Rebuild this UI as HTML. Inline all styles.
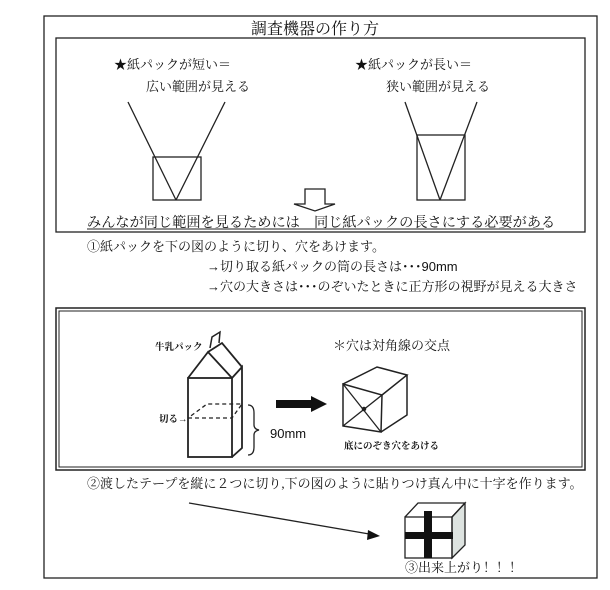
<!DOCTYPE html>
<html><head><meta charset="utf-8"><style>
body{margin:0;background:#fff;width:610px;height:585px;overflow:hidden}
svg text{font-family:"Liberation Serif","Noto Serif CJK SC","Noto Sans CJK JP",serif;fill:#111}
</style></head><body>
<svg width="610" height="585" viewBox="0 0 610 585" xmlns="http://www.w3.org/2000/svg">
<g fill="none" stroke="#222" stroke-width="1.3">
<rect x="44" y="16" width="553" height="562"/>
<rect x="56" y="38" width="529" height="194"/>
<rect x="56" y="308" width="529" height="162" stroke-width="1.5"/>
<rect x="59" y="311" width="523" height="156" stroke-width="1"/>
<!-- left V -->
<line x1="128" y1="102" x2="176" y2="200"/><line x1="225" y1="102" x2="176" y2="200"/>
<rect x="153" y="157" width="48" height="43"/>
<line x1="405" y1="102" x2="440" y2="200"/><line x1="477" y1="102" x2="440" y2="200"/>
<rect x="417" y="135" width="48" height="65"/>
<polygon points="305,189 325,189 325,204 335,204 315,211 294,204 305,204"/>
<line x1="87" y1="229" x2="544" y2="229" stroke-width="1"/>
<!-- carton -->
<rect x="188" y="378" width="44" height="79" stroke-width="1.8"/>
<polyline points="232,457 242,448 242,367 232,378" stroke-width="1.8"/>
<polyline points="188,378 208,352 232,378" stroke-width="1.8"/>
<polyline points="208,352 222,343 242,367" stroke-width="1.8"/>
<polyline points="210,348 212,337 220,332 219,343" stroke-width="1.5"/>
<polyline points="188,418 232,418 242,404 207,404 188,418" stroke-dasharray="4,3" stroke-width="1.3"/>
<path d="M248,405 q6,0 6,8 v12 q0,4 5,5 q-5,1 -5,5 v12 q0,8 -6,8"/>
<!-- cube -->
<polygon points="343,384 382,395 381,432 343,426" stroke-width="1.5"/>
<polyline points="343,384 377,367 407,375 382,395" stroke-width="1.5"/>
<polyline points="407,375 407,415 381,432" stroke-width="1.5"/>
<line x1="343" y1="384" x2="381" y2="432"/><line x1="382" y1="395" x2="343" y2="426"/>
<circle cx="364" cy="409" r="1.6" fill="#222"/>
<!-- long arrow -->
<line x1="189" y1="503" x2="375" y2="535"/>
<!-- final cube -->
<polygon points="452,517 465,503 465,545 452,558" fill="#dde3e0"/>
<polyline points="405,517 418,503 465,503 452,517"/>
<rect x="405" y="517" width="47" height="41"/>
</g>
<polygon points="276,400 311,400 311,396 327,404 311,412 311,408 276,408" fill="#111"/>
<polygon points="380,536 368,530 367,540" fill="#111"/>
<rect x="424" y="511" width="8" height="47" fill="#111"/>
<rect x="405" y="532" width="48" height="7" fill="#111"/>
<text x="315" y="34" font-size="16" text-anchor="middle">調査機器の作り方</text>
<g font-size="13">
<text x="114" y="69">★紙パックが短い＝</text>
<text x="146" y="91">広い範囲が見える</text>
<text x="355" y="69">★紙パックが長い＝</text>
<text x="386" y="91">狭い範囲が見える</text>
<text x="87" y="227" font-size="14.2">みんなが同じ範囲を見るためには　同じ紙パックの長さにする必要がある</text>
<text x="87" y="251">①紙パックを下の図のように切り、穴をあけます。</text>
<text x="207" y="271">→切り取る紙パックの筒の長さは･･･<tspan font-family="Liberation Sans">90mm</tspan></text>
<text x="207" y="291">→穴の大きさは･･･のぞいたときに正方形の視野が見える大きさ</text>
<text x="333" y="350">＊穴は対角線の交点</text>
<text x="87" y="488">②渡したテープを縦に２つに切り,下の図のように貼りつけ真ん中に十字を作ります。</text>
<text x="405" y="572">③出来上がり！！！</text>
</g>
<text x="270" y="438" font-size="13" font-family="Liberation Sans" style="font-family:'Liberation Sans',sans-serif">90mm</text>
<g font-size="9.5" font-weight="bold" style="font-family:'Liberation Sans','Noto Sans CJK JP',sans-serif">
<text x="155" y="350">牛乳パック</text>
<text x="159" y="422">切る→</text>
<text x="344" y="449">底にのぞき穴をあける</text>
</g>
</svg>
</body></html>
